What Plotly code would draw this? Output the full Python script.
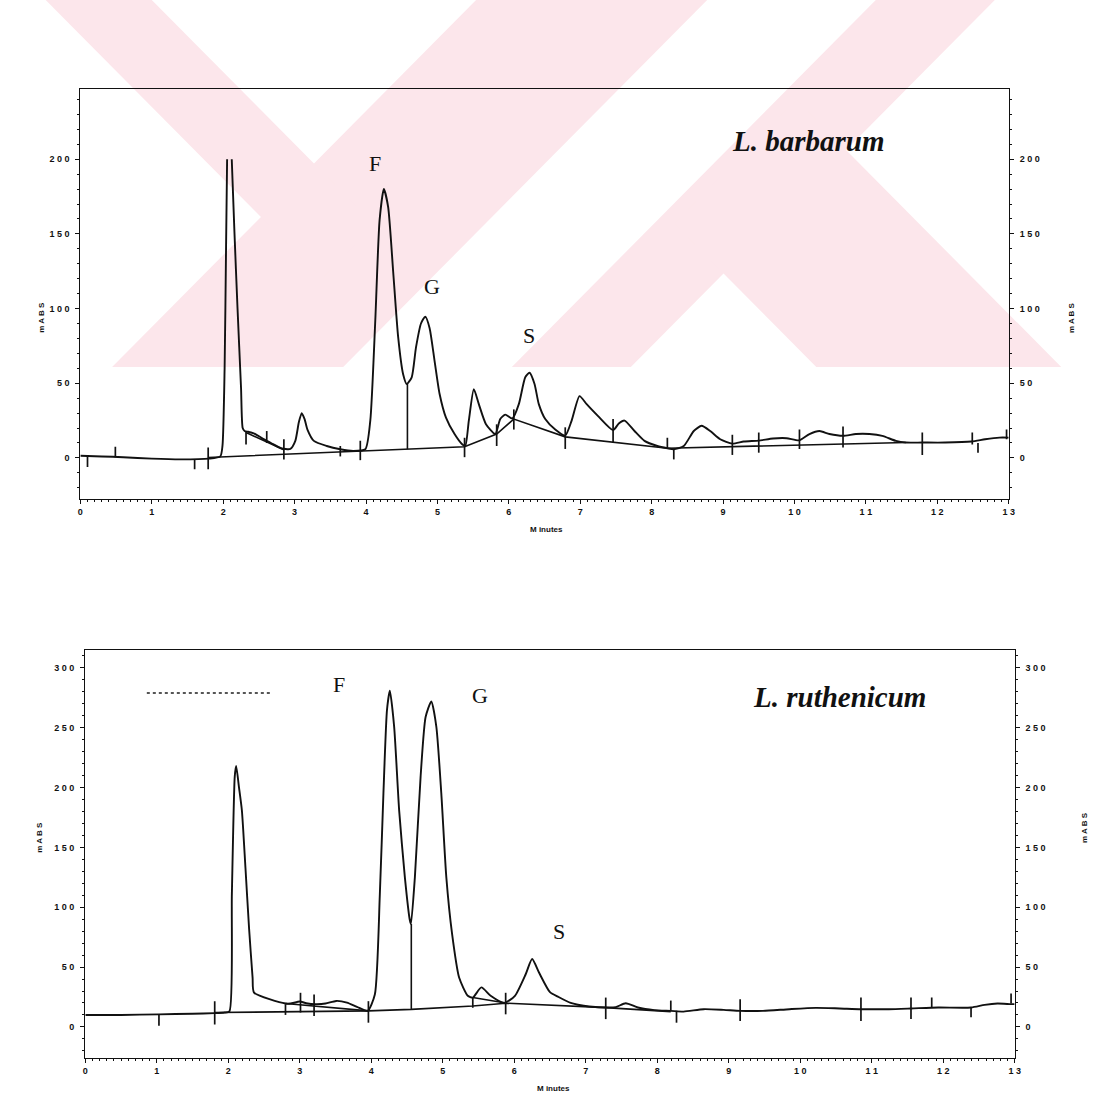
import plotly.graph_objects as go

W, H = 1099, 1100

# ---------------- L. barbarum chromatogram ----------------
barb_time = [0.00, 0.30, 0.60, 1.00, 1.40, 1.80, 1.96, 1.99, 2.02, 2.04, 2.055, 2.09, 2.12,
             2.157, 2.20, 2.25, 2.273, 2.30, 2.35, 2.39, 2.45, 2.53, 2.61, 2.67, 2.81, 2.94,
             3.01, 3.06, 3.10, 3.14, 3.18, 3.27, 3.45, 3.64, 3.82, 3.99, 4.06, 4.13, 4.19,
             4.25, 4.31, 4.38, 4.45, 4.52, 4.57, 4.64, 4.70, 4.77, 4.83, 4.89, 4.96, 5.03,
             5.12, 5.24, 5.35, 5.39, 5.44, 5.51, 5.58, 5.68, 5.81, 5.88, 5.95, 6.05, 6.14,
             6.23, 6.29, 6.36, 6.42, 6.51, 6.65, 6.79, 6.88, 6.99, 7.09, 7.25, 7.46, 7.54,
             7.62, 7.76, 7.90, 8.08, 8.22, 8.31, 8.45, 8.59, 8.70, 8.82, 8.96, 9.13, 9.29,
             9.50, 9.70, 9.89, 10.07, 10.21, 10.35, 10.49, 10.68, 10.86, 11.05, 11.23, 11.42,
             11.56, 11.79, 12.11, 12.48, 12.67, 12.87, 13.00]
barb_mabs = [1.5, 1.0, 0.5, -0.5, -1.0, -0.5, 1.0, 8.0, 60.0, 140.0, 200.0, None, 200.0,
             152.0, 101.0, 47.0, 20.0, 18.0, 17.5, 17.0, 16.0, 13.6, 11.5, 10.0, 6.5, 6.0,
             11.4, 24.0, 30.0, 26.0, 19.0, 11.4, 8.0, 5.8, 4.7, 5.8, 25.0, 92.0, 159.0,
             180.0, 168.0, 125.0, 81.0, 56.0, 49.5, 54.0, 74.0, 90.0, 94.6, 87.0, 65.0, 43.0,
             27.0, 16.0, 9.0, 8.0, 25.0, 46.0, 36.0, 22.6, 16.0, 26.0, 29.0, 26.4, 36.0,
             54.0, 57.0, 49.5, 36.0, 26.0, 19.0, 15.0, 25.0, 41.4, 36.0, 28.0, 18.6, 23.0,
             25.0, 18.0, 11.4, 8.0, 6.5, 5.8, 8.0, 18.0, 21.5, 18.0, 12.5, 9.6, 11.0,
             11.6, 13.0, 13.2, 11.8, 16.0, 18.0, 16.0, 14.8, 16.0, 16.0, 14.8, 11.4,
             10.3, 10.3, 10.3, 11.0, 12.5, 13.6, 13.6]

# integration baselines
barb_base_time = [1.79, 5.38, 5.83, 6.07, 6.79, 8.22, 11.56]
barb_base_mabs = [0.3, 7.5, 16.0, 26.0, 14.1, 6.5, 10.3]
barb_skim_time = [2.32, 2.85]
barb_skim_mabs = [17.0, 5.5]
barb_drop_time = [4.58, 4.58]
barb_drop_mabs = [49.5, 5.9]

# peak start/stop event marks: time, lower and upper end
barb_evt_time = [0.10, 0.49, 1.60, 1.79, 2.32, 2.61, 2.85, 3.64, 3.92, 5.38, 5.83, 6.07,
                 6.79, 7.46, 8.22, 8.31, 9.13, 9.50, 10.07, 10.68, 11.79, 12.49, 12.57, 12.97]
barb_evt_lo = [-6.0, 0.5, -7.5, -7.5, 9.0, 10.0, -1.0, 1.0, -1.5, 0.5, 8.0, 19.0,
               6.0, 10.0, 6.0, -1.0, 2.0, 3.5, 6.0, 7.0, 2.0, 9.0, 3.5, 12.5]
barb_evt_hi = [1.5, 7.5, -1.0, 7.0, 18.0, 18.0, 12.5, 8.0, 11.5, 13.5, 22.5, 32.5,
               20.5, 26.0, 13.5, 6.0, 15.5, 17.0, 19.0, 21.0, 17.0, 17.0, 10.0, 19.0]

# ---------------- L. ruthenicum chromatogram ----------------
ruth_time = [0.00, 0.50, 1.03, 1.50, 1.81, 1.95, 2.016, 2.05, 2.09, 2.11, 2.15, 2.19,
             2.24, 2.29, 2.34, 2.36, 2.80, 2.87, 3.00, 3.09, 3.22, 3.36, 3.51, 3.66, 3.80,
             3.95, 4.05, 4.12, 4.17, 4.22, 4.26, 4.32, 4.39, 4.47, 4.54, 4.555, 4.61, 4.69,
             4.76, 4.84, 4.91, 4.98, 5.05, 5.13, 5.23, 5.35, 5.42, 5.54, 5.67, 5.86, 6.01,
             6.16, 6.25, 6.35, 6.50, 6.62, 6.79, 6.89, 7.05, 7.31, 7.42, 7.56, 7.73, 7.96,
             8.19, 8.37, 8.65, 8.93, 9.16, 9.48, 9.85, 10.22, 10.55, 10.85, 11.24, 11.55,
             11.93, 12.39, 12.58, 12.76, 12.95, 13.00]
ruth_mabs = [10.0, 10.0, 10.5, 11.0, 11.5, 12.0, 13.0, 111.0, 209.0, 218.0, 200.0, 181.0,
             133.0, 83.0, 41.0, 28.7, 19.5, 19.5, 21.2, 19.8, 19.0, 19.5, 21.7, 20.3, 16.7,
             13.4, 27.0, 111.0, 195.0, 265.0, 281.0, 251.0, 181.0, 125.0, 89.0, 86.0, 125.0, 209.0,
             259.0, 272.0, 251.0, 195.0, 125.0, 78.0, 41.0, 26.0, 24.5, 33.0, 26.0, 20.0, 26.0,
             44.0, 56.7, 45.0, 29.0, 25.0, 20.0, 18.5, 17.0, 16.2, 16.5, 19.8, 16.2, 14.0,
             13.4, 12.8, 14.8, 14.2, 13.4, 13.4, 14.8, 15.9, 15.4, 14.8, 14.8, 15.4,
             16.2, 16.2, 18.4, 19.5, 19.0, 19.0]

ruth_base_time = [1.81, 3.96, 4.56, 5.42, 5.88, 7.28, 8.19]
ruth_base_mabs = [12.0, 13.4, 14.6, 17.5, 19.8, 16.1, 12.8]
ruth_skim1_time = [2.80, 3.96]
ruth_skim1_mabs = [19.5, 13.4]
ruth_skim2_time = [5.42, 5.88]
ruth_skim2_mabs = [24.5, 20.0]
ruth_drop_time = [4.56, 4.56]
ruth_drop_mabs = [86.0, 14.6]

ruth_evt_time = [1.03, 1.81, 2.80, 3.01, 3.20, 3.96, 5.42, 5.88, 7.28, 8.19, 8.27, 9.16,
                 10.85, 11.55, 11.84, 12.39, 12.95]
ruth_evt_lo = [1.0, 2.0, 10.0, 12.0, 9.0, 3.5, 16.0, 10.5, 6.5, 13.5, 3.5, 5.0,
               5.0, 6.5, 16.0, 8.0, 19.5]
ruth_evt_hi = [10.0, 21.5, 19.0, 28.5, 27.0, 21.5, 24.5, 28.5, 24.5, 22.0, 13.5, 23.0,
               24.5, 24.5, 24.5, 16.0, 28.0]

# axis ticks
minute_ticks = list(range(0, 14))
barb_yticks = [0, 50, 100, 150, 200]
ruth_yticks = [0, 50, 100, 150, 200, 250, 300]


def spaced(v):
    return " ".join(str(v))


def segs(times, lo, hi):
    xs, ys = [], []
    for t, a, b in zip(times, lo, hi):
        xs += [t, t, None]
        ys += [a, b, None]
    return xs, ys


INK = "#111111"
fig = go.Figure()


def add_panel(xa, ya, ya_right, t, v, bases, drop, evt):
    fig.add_trace(go.Scatter(x=t, y=v, mode="lines", xaxis=xa, yaxis=ya,
                             line=dict(color=INK, width=1.9, shape="spline", smoothing=0.6),
                             connectgaps=False, hoverinfo="skip", showlegend=False))
    for bt, bv in bases:
        fig.add_trace(go.Scatter(x=bt, y=bv, mode="lines", xaxis=xa, yaxis=ya,
                                 line=dict(color=INK, width=1.6),
                                 hoverinfo="skip", showlegend=False))
    fig.add_trace(go.Scatter(x=drop[0], y=drop[1], mode="lines", xaxis=xa, yaxis=ya,
                             line=dict(color=INK, width=1.6),
                             hoverinfo="skip", showlegend=False))
    # event marks share the right-hand axis (same range as the left one)
    ex, ey = segs(*evt)
    fig.add_trace(go.Scatter(x=ex, y=ey, mode="lines", xaxis=xa, yaxis=ya_right,
                             line=dict(color=INK, width=1.7),
                             hoverinfo="skip", showlegend=False))


add_panel("x", "y", "y3", barb_time, barb_mabs,
          [(barb_base_time, barb_base_mabs), (barb_skim_time, barb_skim_mabs)],
          (barb_drop_time, barb_drop_mabs),
          (barb_evt_time, barb_evt_lo, barb_evt_hi))
add_panel("x2", "y2", "y4", ruth_time, ruth_mabs,
          [(ruth_base_time, ruth_base_mabs), (ruth_skim1_time, ruth_skim1_mabs),
           (ruth_skim2_time, ruth_skim2_mabs)],
          (ruth_drop_time, ruth_drop_mabs),
          (ruth_evt_time, ruth_evt_lo, ruth_evt_hi))

tick_font = dict(family="Liberation Sans", size=9, color=INK, weight="bold")


def xaxis_cfg(dom, anchor):
    return dict(domain=dom, anchor=anchor, range=[0, 13], showline=True, linecolor=INK,
                linewidth=1.3, mirror=True, ticks="outside", ticklen=4, tickwidth=1,
                tickcolor=INK, tickvals=minute_ticks,
                ticktext=[spaced(m) for m in minute_ticks], tickfont=tick_font,
                showgrid=False, zeroline=False,
                minor=dict(dtick=0.1, ticklen=2, tickcolor=INK, ticks="outside"))


def yaxis_cfg(dom, anchor, rng, tv, side="left", overlay=None):
    d = dict(domain=dom, anchor=anchor, range=rng, showline=True, linecolor=INK,
             linewidth=1.3, ticks="outside", ticklen=4, tickwidth=1, tickcolor=INK,
             tickvals=tv, ticktext=[spaced(v) for v in tv], tickfont=tick_font,
             showgrid=False, zeroline=False, side=side, ticklabelstandoff=4,
             minor=dict(dtick=10, ticklen=2, tickcolor=INK, ticks="outside"))
    if overlay:
        d["overlaying"] = overlay
    else:
        d["mirror"] = True
    return d


top_dom = [1 - 499 / H, 1 - 89 / H]
bot_dom = [1 - 1058 / H, 1 - 650 / H]
barb_range = [-27.5, 247]
ruth_range = [-26, 315]

fig.update_layout(
    width=W, height=H, margin=dict(l=0, r=0, t=0, b=0),
    paper_bgcolor="white", plot_bgcolor="rgba(0,0,0,0)",
    xaxis=xaxis_cfg([78 / W, 1014 / W], "y"),
    yaxis=yaxis_cfg(top_dom, "x", barb_range, barb_yticks),
    yaxis3=yaxis_cfg(top_dom, "x", barb_range, barb_yticks, side="right", overlay="y"),
    xaxis2=xaxis_cfg([83 / W, 1020 / W], "y2"),
    yaxis2=yaxis_cfg(bot_dom, "x2", ruth_range, ruth_yticks),
    yaxis4=yaxis_cfg(bot_dom, "x2", ruth_range, ruth_yticks, side="right", overlay="y2"),
    showlegend=False,
)

serif = "Liberation Serif"
ann = []


def label(text, xref, yref, x, y, size, bold_italic=False):
    ann.append(dict(text=(f"<b><i>{text}</i></b>" if bold_italic else text),
                    x=x, y=y, xref=xref, yref=yref, showarrow=False,
                    font=dict(family=serif, size=size, color=INK)))


# peak names and species titles
label("F", "x", "y", 4.12, 197, 22)
label("G", "x", "y", 4.92, 115, 22)
label("S", "x", "y", 6.28, 82, 22)
label("L. barbarum", "x", "y", 10.19, 212, 29, True)
label("F", "x2", "y2", 3.55, 286, 22)
label("G", "x2", "y2", 5.52, 277, 22)
label("S", "x2", "y2", 6.62, 80, 22)
label("L. ruthenicum", "x2", "y2", 10.55, 276, 29, True)

small = dict(family="Liberation Sans", size=8, color=INK, weight="bold")
for (x, y) in [(548, 529), (555, 1095)]:
    ann.append(dict(text="M inutes", x=x / W, y=1 - y / H, xref="paper", yref="paper",
                    showarrow=False, font=small))
for (x, y) in [(32, 300), (1084, 300), (30, 855), (1097, 845)]:
    ann.append(dict(text="m A B S", x=x / W, y=1 - y / H, xref="paper", yref="paper",
                    showarrow=False, textangle=-90, font=small))

fig.update_layout(annotations=ann)


# light pink background emblem across the upper page (pixel outlines)
def px_path(points):
    return "M " + " L ".join(f"{x / W:.5f},{1 - y / H:.5f}" for x, y in points) + " Z"


PINK = "#fce6eb"
emblem = [
    [(477, 0), (710, 0), (343, 367), (110, 367)],
    [(43, 0), (150, 0), (375, 225), (321.5, 278.5)],
    [(880, 0), (1000, 0), (633, 367), (513, 367)],
    [(676.5, 223.5), (800, 100), (1067, 367), (820, 367)],
]
for poly in emblem:
    fig.add_shape(type="path", path=px_path(poly), xref="paper", yref="paper",
                  fillcolor=PINK, line=dict(width=0), layer="below")

# faint printed file name in the lower panel
fig.add_shape(type="line", xref="paper", yref="paper", x0=145 / W, x1=270 / W,
              y0=1 - 693 / H, y1=1 - 693 / H, line=dict(color="#555", width=2, dash="dot"))

fig.write_html("out.html")
